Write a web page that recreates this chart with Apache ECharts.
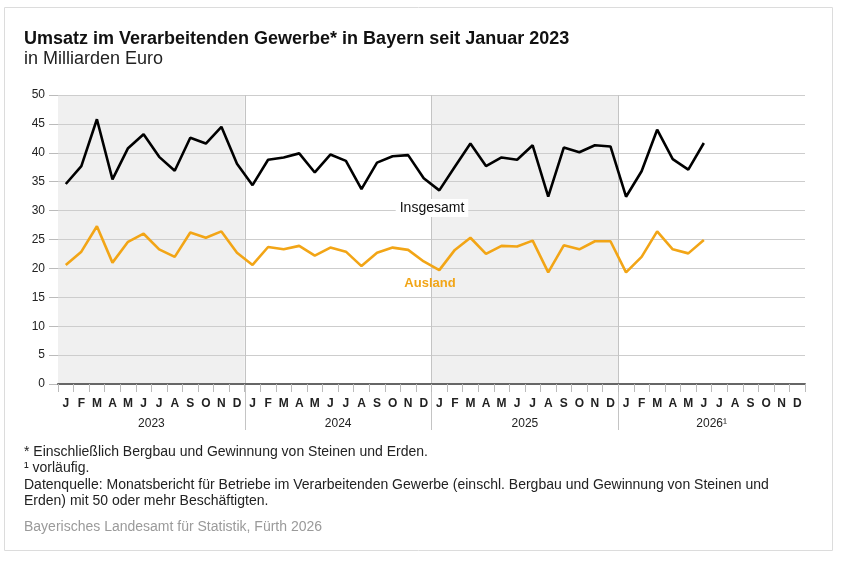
<!DOCTYPE html>
<html>
<head>
<meta charset="utf-8">
<script src="https://cdn.jsdelivr.net/npm/echarts@6/dist/echarts.min.js"></script>
<style>
  html, body { margin: 0; padding: 0; background: #fff; }
  #chart { width: 841px; height: 561px; }
</style>
</head>
<body>
<div id="chart"></div>
<script>
// Monatsbuchstaben und Jahre der x-Achse
const monthLetters = ['J', 'F', 'M', 'A', 'M', 'J', 'J', 'A', 'S', 'O', 'N', 'D'];
const years = ['2023', '2024', '2025', '2026¹'];
// Monatsindex der Jahresgrenzen und Jahresmitten (Achse 0..48)
const yearBreaks = [12, 24, 36];
const yearMids = [6, 18, 30, 42];
// grau hinterlegte Jahre: 2023 und 2025
const shadedYears = [[0, 12], [24, 36]];

// Umsatz in Mrd. Euro, Jan 2023 - Jun 2026
const insgesamt = [
  34.6, 37.7, 45.8, 35.4, 40.8, 43.2, 39.3, 36.9, 42.6, 41.6, 44.5, 38.1,
  34.4, 38.8, 39.2, 39.9, 36.6, 39.7, 38.6, 33.7, 38.3, 39.4, 39.6, 35.6,
  33.5, 37.6, 41.6, 37.7, 39.2, 38.8, 41.3, 32.4, 40.9, 40.1, 41.3, 41.1,
  32.4, 36.8, 44.0, 38.9, 37.1, 41.7
];
const ausland = [
  20.6, 22.9, 27.3, 21.0, 24.6, 26.0, 23.3, 22.0, 26.2, 25.3, 26.4, 22.7,
  20.6, 23.7, 23.3, 23.9, 22.2, 23.6, 22.9, 20.4, 22.7, 23.6, 23.2, 21.2,
  19.7, 23.2, 25.3, 22.5, 23.9, 23.8, 24.8, 19.3, 24.0, 23.3, 24.7, 24.7,
  19.3, 22.0, 26.4, 23.3, 22.6, 24.9
];

// Kategorien: eindeutige Schlüssel, Label = Monatsbuchstabe
const categories = [];
years.forEach((y, yi) => {
  monthLetters.forEach((m, mi) => categories.push(yi + '-' + mi));
});

const FONT = '"Liberation Sans", Arial, sans-serif';
const ORANGE = '#f2a516';
const SEP = '#c4c4c4';
const gridPos = { left: 58, right: 36, top: 95, bottom: 177 };

const chart = echarts.init(document.getElementById('chart'));
chart.setOption({
  animation: false,
  textStyle: { fontFamily: FONT },
  title: {
    text: 'Umsatz im Verarbeitenden Gewerbe* in Bayern seit Januar 2023',
    subtext: 'in Milliarden Euro',
    left: 24,
    top: 30,
    padding: 0,
    itemGap: 2,
    textStyle: { fontSize: 18, fontWeight: 'bold', color: '#111', fontFamily: FONT },
    subtextStyle: { fontSize: 18, color: '#222', fontFamily: FONT }
  },
  grid: [
    { ...gridPos },
    { ...gridPos }
  ],
  xAxis: [
    {
      type: 'category',
      gridIndex: 0,
      data: categories,
      boundaryGap: true,
      z: 4,
      axisLine: { lineStyle: { color: '#666', width: 2 } },
      axisTick: { show: true, interval: 0, length: 8, lineStyle: { color: '#bbb' } },
      axisLabel: {
        interval: 0,
        margin: 14,
        fontSize: 12,
        fontWeight: 'bold',
        color: '#222',
        formatter: v => monthLetters[+v.split('-')[1]]
      },
      splitLine: { show: false }
    },
    {
      // Jahresachse: Trennlinien und Jahreszahlen
      type: 'value',
      gridIndex: 1,
      min: 0,
      max: 48,
      z: 1,
      axisLine: { show: false },
      axisTick: { show: true, customValues: yearBreaks, length: 46, lineStyle: { color: SEP } },
      axisLabel: {
        customValues: yearMids,
        margin: 34,
        fontSize: 12,
        color: '#222',
        formatter: v => years[yearMids.indexOf(v)]
      },
      splitLine: { show: false }
    }
  ],
  yAxis: [
    {
      type: 'value',
      gridIndex: 0,
      min: 0,
      max: 50,
      interval: 5,
      z: 2,
      axisLine: { show: false },
      axisTick: { show: true, length: 9, lineStyle: { color: '#bbb' } },
      axisLabel: { margin: 13, fontSize: 12, color: '#222' },
      splitLine: { lineStyle: { color: '#cdcdcd' } }
    },
    {
      type: 'value',
      gridIndex: 1,
      min: 0,
      max: 50,
      show: false
    }
  ],
  series: [
    {
      // Hintergrund: graue Jahre und Jahrestrennlinien
      type: 'line',
      xAxisIndex: 1,
      yAxisIndex: 1,
      data: [],
      silent: true,
      z: 0,
      markArea: {
        silent: true,
        z: 0,
        itemStyle: { color: '#f0f0f0' },
        data: shadedYears.map(r => [{ xAxis: r[0] }, { xAxis: r[1] }])
      },
      markLine: {
        silent: true,
        z: 2,
        symbol: 'none',
        label: { show: false },
        lineStyle: { color: SEP, type: 'solid', width: 1 },
        data: yearBreaks.map(v => ({ xAxis: v }))
      }
    },
    {
      name: 'Insgesamt',
      type: 'line',
      data: insgesamt,
      symbol: 'none',
      z: 5,
      lineStyle: { color: '#000', width: 2.6 }
    },
    {
      name: 'Ausland',
      type: 'line',
      data: ausland,
      symbol: 'none',
      z: 5,
      lineStyle: { color: ORANGE, width: 2.6 }
    }
  ],
  graphic: [
    {
      type: 'rect',
      shape: { x: 4.5, y: 7.5, width: 828, height: 543 },
      style: { fill: 'none', stroke: '#dcdcdc', lineWidth: 1 },
      silent: true
    },
    {
      type: 'text',
      x: 432, y: 208,
      z: 10,
      style: {
        text: 'Insgesamt', font: '14px ' + FONT, fill: '#111',
        align: 'center', verticalAlign: 'middle',
        backgroundColor: '#fff', padding: [2, 4]
      }
    },
    {
      type: 'text',
      x: 430, y: 283,
      z: 10,
      style: {
        text: 'Ausland', font: 'bold 13px ' + FONT, fill: ORANGE,
        align: 'center', verticalAlign: 'middle'
      }
    },
    {
      type: 'text',
      left: 24, top: 444,
      style: {
        text: '* Einschließlich Bergbau und Gewinnung von Steinen und Erden.\n' +
              '¹ vorläufig.\n' +
              'Datenquelle: Monatsbericht für Betriebe im Verarbeitenden Gewerbe (einschl. Bergbau und Gewinnung von Steinen und\n' +
              'Erden) mit 50 oder mehr Beschäftigten.',
        font: '14px ' + FONT, fill: '#222', lineHeight: 16.3
      }
    },
    {
      type: 'text',
      left: 24, top: 520,
      style: {
        text: 'Bayerisches Landesamt für Statistik, Fürth 2026',
        font: '14px ' + FONT, fill: '#9a9a9a'
      }
    }
  ]
});
</script>
</body>
</html>
